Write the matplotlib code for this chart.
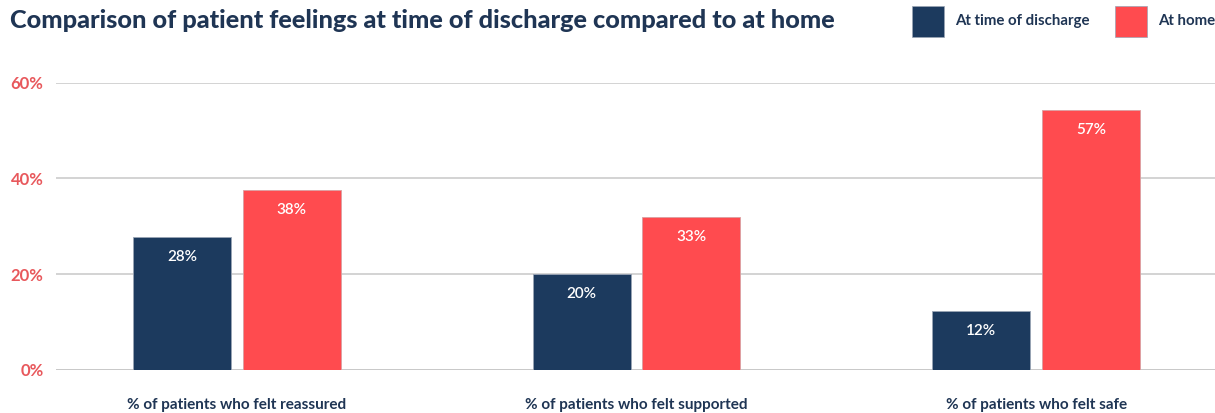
import matplotlib
matplotlib.use("Agg")
import matplotlib.pyplot as plt
from matplotlib.patches import Rectangle
import numpy as np

categories = ["% of patients who felt reassured", "% of patients who felt supported", "% of patients who felt safe"]
series_names = ["At time of discharge", "At home"]
discharge = [27.7, 20.0, 12.3]
home = [37.5, 31.9, 54.2]
discharge_labels = ["28%", "20%", "12%"]
home_labels = ["38%", "33%", "57%"]
yticks = [0, 20, 40, 60]
ytick_labels = ["0%", "20%", "40%", "60%"]

NAVY = "#1c3a5e"
RED = "#ff4b4f"
TICK_RED = "#e8585c"
TEXT = "#1f3554"

plt.rcParams['font.family'] = ['Lato', 'DejaVu Sans']

W, H = 1215, 413
fig = plt.figure(figsize=(W / 100, H / 100), dpi=100)
ax = fig.add_axes([56 / W, 1 - 370 / H, (W - 56) / W, (370 - 82.7) / H])

x = np.arange(len(categories))
bw = 0.245
off = 0.1375
b1 = ax.bar(x - off, discharge, bw, color=NAVY, edgecolor="#9aa5b5", linewidth=0.6, zorder=3)
b2 = ax.bar(x + off, home, bw, color=RED, edgecolor="#d9a0a2", linewidth=0.6, zorder=3)

for bars, labels in ((b1, discharge_labels), (b2, home_labels)):
    for rect, lab in zip(bars, labels):
        ax.annotate(lab, (rect.get_x() + rect.get_width() / 2, rect.get_height()),
                    xytext=(0, -14), textcoords="offset points", ha="center", va="center",
                    color="white", fontsize=11, fontweight="semibold", zorder=4)

ax.set_xlim(-0.4525, 2.4475)
ax.set_ylim(0, 60)
ax.set_yticks(yticks)
ax.set_yticklabels(ytick_labels, color=TICK_RED, fontsize=12, fontweight="bold")
ax.tick_params(axis="y", length=0, pad=9)
ax.set_xticks(x)
ax.set_xticklabels(categories, color=TEXT, fontsize=11, fontweight="bold")
ax.tick_params(axis="x", length=0, pad=20)
for s in ax.spines.values():
    s.set_visible(False)
ax.grid(axis="y", color="#cccccc", linewidth=1.2, zorder=0)
ax.axhline(0, color="#c8c8c8", linewidth=2, zorder=2)

fig.text(10 / W, 1 - 20 / H, "Comparison of patient feelings at time of discharge compared to at home",
         color=TEXT, fontsize=18.2, fontweight="black", ha="left", va="center")

# legend
for (x0, name, col) in [(912, series_names[0], NAVY), (1115, series_names[1], RED)]:
    fig.patches.append(Rectangle((x0 / W, 1 - 37 / H), 32 / W, 31 / H, transform=fig.transFigure,
                                 facecolor=col, edgecolor="#9aa5b5", linewidth=0.5))
    fig.text((x0 + 43) / W, 1 - 21 / H, name, color=TEXT, fontsize=10.8, fontweight="bold",
             ha="left", va="center")

fig.savefig("out.png", dpi=100)
